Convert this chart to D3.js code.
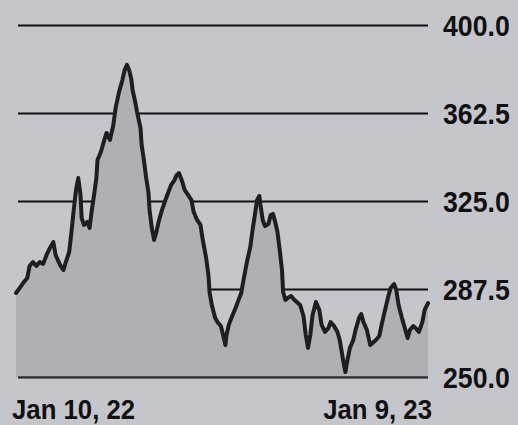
<!DOCTYPE html>
<html>
<head>
<meta charset="utf-8">
<script src="https://cdn.jsdelivr.net/npm/d3@7/dist/d3.min.js"></script>
<style>
  html, body { margin: 0; padding: 0; background: #c5c6cc; }
  svg { display: block; }
</style>
</head>
<body>
<svg id="chart" width="518" height="425"></svg>
<script>
// ---- data ----
// day offsets from Jan 10, 2022
const dayOffsets = [0,4,7,10,12,15,18,21,24,27,30,33,35,39,42,44,47,49,51,53,55,57,58,60,63,65,67,69,71,72,75,78,80,83,86,88,91,94,96,98,100,102,103,105,107,110,111,113,115,117,118,120,122,124,126,129,132,134,137,140,142,144,147,149,152,155,157,160,163,165,168,170,171,173,176,178,181,183,185,186,188,191,194,196,199,201,204,207,209,211,213,215,216,218,220,223,225,227,229,231,233,235,236,238,240,243,246,248,251,254,256,258,260,262,265,268,270,273,276,278,281,284,286,289,291,292,295,298,300,303,305,307,310,313,315,318,321,323,326,329,331,334,336,338,341,344,346,348,351,353,356,359,361,364];
const prices = [285.8,288.4,290.5,292.2,297.3,299.0,297.3,299.0,298.2,302.0,305.0,307.5,302.0,297.7,295.6,299.0,303.3,311.8,321.2,329.7,334.8,327.6,317.8,314.8,316.1,313.5,321.2,327.6,334.8,342.5,345.9,351.0,354.0,351.0,357.4,364.6,371.4,376.6,380.8,383.0,380.8,376.6,372.3,368.0,362.9,356.1,348.9,342.5,334.8,328.8,321.2,313.5,308.4,311.8,316.1,321.2,325.4,328.0,331.8,333.9,336.1,336.9,333.1,329.7,327.6,325.4,320.3,316.9,314.8,308.4,300.7,293.5,286.2,280.7,275.1,273.4,271.7,267.9,263.6,267.9,272.2,276.0,279.4,282.0,285.8,291.3,299.0,305.4,312.6,319.0,325.4,327.1,323.3,316.9,314.3,315.2,319.0,319.5,316.1,311.8,304.1,295.6,286.2,282.8,283.7,284.5,282.8,282.0,280.7,276.0,267.9,262.4,267.9,276.4,282.0,278.5,272.2,269.2,270.9,273.4,271.7,269.2,265.8,257.2,252.1,255.1,262.4,265.8,270.0,275.1,276.8,273.4,270.0,263.6,264.5,265.8,267.5,272.2,278.5,284.5,287.9,289.6,287.1,280.7,275.1,270.0,266.6,270.0,271.7,270.9,269.2,273.4,278.5,281.5];
const yTicks = [400, 362.5, 325, 287.5, 250];
const yTickLabels = ["400.0", "362.5", "325.0", "287.5", "250.0"];
const xLabels = ["Jan 10, 22", "Jan 9, 23"];

// ---- layout ----
const svg = d3.select("#chart");
const plotLeft = 18, plotRight = 428, plotTop = 25, plotBottom = 377;
const fontFam = "'Liberation Sans', Arial, sans-serif";
const squeeze = 0.92;   // narrow the glyphs a little (condensed newspaper face)

const x = d3.scaleLinear().domain([0, 364]).range([16, 428]);
const y = d3.scaleLinear().domain([250, 400]).range([plotBottom, plotTop]);

const data = dayOffsets.map((d, i) => ({ d, v: prices[i] }));

svg.append("rect").attr("width", 518).attr("height", 425).attr("fill", "#c5c6cc");

// gridlines + labels via axis
const axis = d3.axisRight(y)
  .tickValues(yTicks)
  .tickSize(-(plotRight - plotLeft))
  .tickPadding(14)
  .tickFormat((d, i) => yTickLabels[i]);

const gAxis = svg.append("g")
  .attr("transform", `translate(${plotRight},0)`)
  .call(axis);
gAxis.select(".domain").remove();
gAxis.selectAll(".tick line")
  .attr("stroke", "#111")
  .attr("stroke-width", 2);
gAxis.selectAll(".tick text")
  .attr("fill", "#111")
  .attr("font-family", fontFam)
  .attr("font-weight", "bold")
  .attr("font-size", 29)
  .attr("x", 15 / squeeze)
  .attr("transform", `scale(${squeeze},1)`)
  .attr("dy", "0.36em");

// area (opaque, hides the gridlines below the line)
const area = d3.area()
  .x(p => x(p.d))
  .y0(y(250))
  .y1(p => y(p.v));
svg.append("path")
  .datum(data)
  .attr("d", area)
  .attr("fill", "#afafb6");

// baseline
svg.append("line")
  .attr("x1", plotLeft).attr("x2", plotRight)
  .attr("y1", y(250)).attr("y2", y(250))
  .attr("stroke", "#333")
  .attr("stroke-width", 1.5);

// price line
const line = d3.line()
  .x(p => x(p.d))
  .y(p => y(p.v));
svg.append("path")
  .datum(data)
  .attr("d", line)
  .attr("fill", "none")
  .attr("stroke", "#1e1e22")
  .attr("stroke-width", 4)
  .attr("stroke-linejoin", "round")
  .attr("stroke-linecap", "round");

// x labels
const xl = svg.append("g")
  .attr("transform", `scale(${squeeze},1)`)
  .attr("font-family", fontFam)
  .attr("font-weight", "bold")
  .attr("font-size", 28)
  .attr("fill", "#111");
xl.append("text")
  .attr("x", (x(0) - 4) / squeeze)
  .attr("y", 419)
  .attr("text-anchor", "start")
  .text(xLabels[0]);
xl.append("text")
  .attr("x", (x(364) + 4) / squeeze)
  .attr("y", 419)
  .attr("text-anchor", "end")
  .text(xLabels[1]);
</script>
</body>
</html>
